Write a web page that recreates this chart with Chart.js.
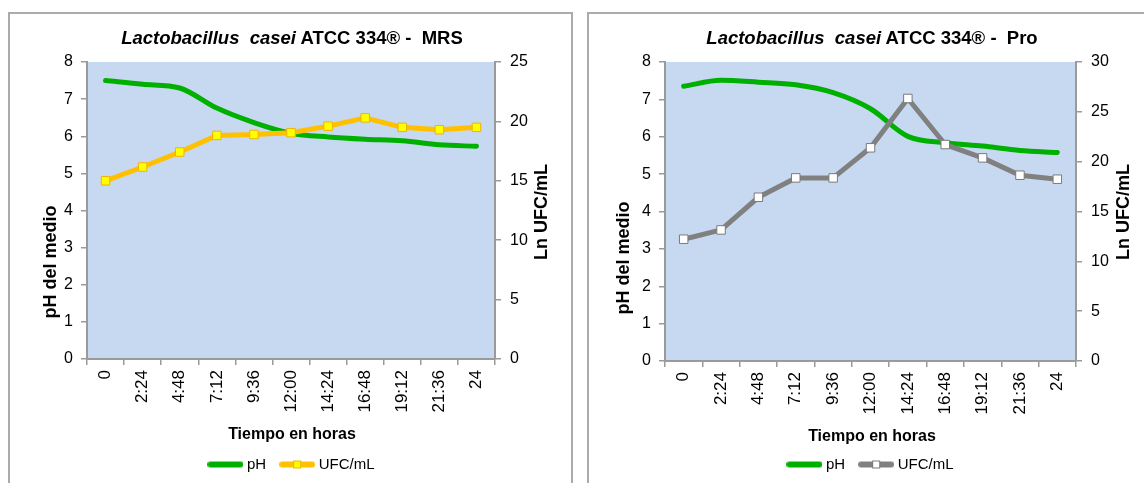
<!DOCTYPE html>
<html lang="es">
<head>
<meta charset="UTF-8">
<title>Lactobacillus casei ATCC 334 - pH y UFC/mL</title>
<style>
    html, body { margin: 0; padding: 0; background: #fff; width: 1144px; height: 483px; overflow: hidden; }
    body { position: relative; font-family: "Liberation Sans", Arial, sans-serif; }
    .box { position: absolute; top: 12px; height: 520px; border: 2px solid #ababab; box-sizing: border-box; }
    #box1 { left: 8px; width: 565px; }
    #box2 { left: 587px; width: 600px; }
    .titulo { position: absolute; top: 26px; width: 420px; text-align: center; font-weight: bold;
              font-size: 18.5px; line-height: 24px; white-space: pre; color: #000; }
    #titulo1 { left: 82px; }
    #titulo2 { left: 662px; }
    canvas { position: absolute; top: 14px; }
    #grafMRS { left: 10px; }
    #grafPro { left: 589px; }
</style>
<script src="https://cdn.jsdelivr.net/npm/chart.js"></script>
</head>
<body>
<div class="box" id="box1"></div>
<div class="box" id="box2"></div>
<canvas id="grafMRS" width="560" height="468"></canvas>
<canvas id="grafPro" width="555" height="468"></canvas>
<div class="titulo" id="titulo1"><i>Lactobacillus  casei</i> ATCC 334® -  MRS</div>
<div class="titulo" id="titulo2"><i>Lactobacillus  casei</i> ATCC 334® -  Pro</div>

<script>
    // Datos
    const horas = ['0', '2:24', '4:48', '7:12', '9:36', '12:00', '14:24', '16:48', '19:12', '21:36', '24'];

    const phMRS  = [7.50, 7.40, 7.30, 6.76, 6.37, 6.08, 5.98, 5.92, 5.88, 5.77, 5.73];
    const ufcMRS = [15.0, 16.16, 17.42, 18.82, 18.9, 19.05, 19.6, 20.3, 19.5, 19.3, 19.5];

    const phPro  = [7.35, 7.51, 7.46, 7.39, 7.18, 6.75, 6.01, 5.84, 5.75, 5.63, 5.58];
    const ufcPro = [12.22, 13.15, 16.43, 18.37, 18.37, 21.39, 26.34, 21.72, 20.38, 18.64, 18.24];

    const ejePH = { min: 0, max: 8, paso: 1 };
    const ejeUfcMRS = { min: 0, max: 25, paso: 5 };
    const ejeUfcPro = { min: 0, max: 30, paso: 5 };

    // Estilos
    const fuente = '"Liberation Sans", Arial, sans-serif';
    const verde = '#00B000';
    const gris = '#9a9a9a';

    // fondo azul del area de trazado
    const fondoPlot = {
        id: 'fondoPlot',
        beforeDraw(chart, args, opts) {
            const a = chart.chartArea;
            const ctx = chart.ctx;
            ctx.save();
            ctx.fillStyle = opts.color;
            ctx.fillRect(a.left, a.top, a.right - a.left, a.bottom - a.top);
            ctx.restore();
        }
    };

    // titulos de ejes (el derecho se lee de abajo hacia arriba, como en Excel)
    const titulosEjes = {
        id: 'titulosEjes',
        afterDraw(chart, args, opts) {
            const ctx = chart.ctx;
            opts.items.forEach(t => {
                ctx.save();
                ctx.fillStyle = '#000';
                ctx.textAlign = 'center';
                ctx.textBaseline = 'middle';
                ctx.font = 'bold ' + t.size + 'px ' + fuente;
                ctx.translate(t.x, t.y);
                ctx.rotate(t.rot || 0);
                ctx.fillText(t.text, 0, 0);
                ctx.restore();
            });
        }
    };

    // simbolo de leyenda: linea gruesa con marcador opcional
    function simbolo(color, marca) {
        const c = document.createElement('canvas');
        c.width = 36;
        c.height = 14;
        const g = c.getContext('2d');
        g.strokeStyle = color;
        g.lineWidth = 6;
        g.lineCap = 'round';
        g.beginPath();
        g.moveTo(3, 7);
        g.lineTo(33, 7);
        g.stroke();
        if (marca) {
            g.fillStyle = marca.fondo;
            g.fillRect(14, 3, 8, 8);
            g.strokeStyle = marca.borde;
            g.lineWidth = 1;
            g.strokeRect(14.5, 3.5, 7, 7);
        }
        return c;
    }

    function crearGrafico(id, ph, ufc, ejeUfc, estiloUfc, dims, titulos) {
        const simbPH = simbolo(verde, null);
        const simbUFC = simbolo(estiloUfc.linea, { fondo: estiloUfc.fondo, borde: estiloUfc.borde });

        return new Chart(document.getElementById(id), {
            type: 'line',
            data: {
                labels: horas,
                datasets: [
                    {
                        label: 'pH',
                        data: ph,
                        yAxisID: 'y',
                        borderColor: verde,
                        borderWidth: 5,
                        pointRadius: 0,
                        cubicInterpolationMode: 'monotone',
                        borderCapStyle: 'round',
                        borderJoinStyle: 'round',
                        order: 2
                    },
                    {
                        label: 'UFC/mL',
                        data: ufc,
                        yAxisID: 'y1',
                        borderColor: estiloUfc.linea,
                        borderWidth: 5,
                        borderJoinStyle: 'round',
                        borderCapStyle: 'round',
                        pointStyle: 'rect',
                        pointRadius: 6,
                        pointBackgroundColor: estiloUfc.fondo,
                        pointBorderColor: estiloUfc.borde,
                        pointBorderWidth: 1,
                        order: 1
                    }
                ]
            },
            options: {
                responsive: false,
                animation: false,
                events: [],
                layout: { padding: { top: dims.top, left: dims.padL, right: 0, bottom: 0 } },
                plugins: {
                    legend: {
                        position: 'bottom',
                        labels: {
                            usePointStyle: true,
                            pointStyleWidth: 28,
                            padding: 17,
                            color: '#000',
                            font: { size: 15, family: fuente },
                            generateLabels: () => [
                                { text: 'pH', pointStyle: simbPH, fillStyle: verde, strokeStyle: verde, lineWidth: 0, hidden: false, datasetIndex: 0, fontColor: '#000' },
                                { text: 'UFC/mL', pointStyle: simbUFC, fillStyle: estiloUfc.linea, strokeStyle: estiloUfc.linea, lineWidth: 0, hidden: false, datasetIndex: 1, fontColor: '#000' }
                            ]
                        }
                    },
                    tooltip: { enabled: false },
                    fondoPlot: { color: '#C6D9F1' },
                    titulosEjes: { items: titulos }
                },
                scales: {
                    x: {
                        offset: true,
                        grid: { offset: true, drawOnChartArea: false, tickLength: 6, color: gris, lineWidth: 1.5 },
                        border: { color: gris, width: 2 },
                        ticks: { minRotation: 90, maxRotation: 90, autoSkip: false, padding: 5, color: '#000', font: { size: 17, family: fuente } },
                        afterFit: s => { s.height = s.chart.height - dims.bottom - s.chart.legend.height; }
                    },
                    y: {
                        position: 'left',
                        min: ejePH.min,
                        max: ejePH.max,
                        ticks: { stepSize: ejePH.paso, padding: 8, color: '#000', font: { size: 16, family: fuente } },
                        grid: { drawOnChartArea: false, tickLength: 6, color: gris, lineWidth: 1.5 },
                        border: { color: gris, width: 2 },
                        afterFit: s => { s.width = dims.leftW; }
                    },
                    y1: {
                        position: 'right',
                        min: ejeUfc.min,
                        max: ejeUfc.max,
                        ticks: { stepSize: ejeUfc.paso, padding: 9, color: '#000', font: { size: 16, family: fuente } },
                        grid: { drawOnChartArea: false, tickLength: 6, color: gris, lineWidth: 1.5 },
                        border: { color: gris, width: 2 },
                        afterFit: s => { s.width = dims.rightW; }
                    }
                }
            },
            plugins: [fondoPlot, titulosEjes]
        });
    }

    crearGrafico('grafMRS', phMRS, ufcMRS, ejeUfcMRS,
        { linea: '#FFC000', fondo: '#FFFF00', borde: '#F2B300' },
        { top: 48, padL: 6, leftW: 71, rightW: 75, bottom: 345 },
        [
            { text: 'pH del medio', x: 41, y: 248, rot: -Math.PI / 2, size: 18 },
            { text: 'Ln UFC/mL', x: 532, y: 198, rot: -Math.PI / 2, size: 18 },
            { text: 'Tiempo en horas', x: 282, y: 421, size: 16 }
        ]);

    crearGrafico('grafPro', phPro, ufcPro, ejeUfcPro,
        { linea: '#808080', fondo: '#FFFFFF', borde: '#7a7a7a' },
        { top: 48, padL: 11, leftW: 65, rightW: 68, bottom: 347 },
        [
            { text: 'pH del medio', x: 35, y: 244, rot: -Math.PI / 2, size: 18 },
            { text: 'Ln UFC/mL', x: 535, y: 198, rot: -Math.PI / 2, size: 18 },
            { text: 'Tiempo en horas', x: 283, y: 423, size: 16 }
        ]);
</script>
</body>
</html>
